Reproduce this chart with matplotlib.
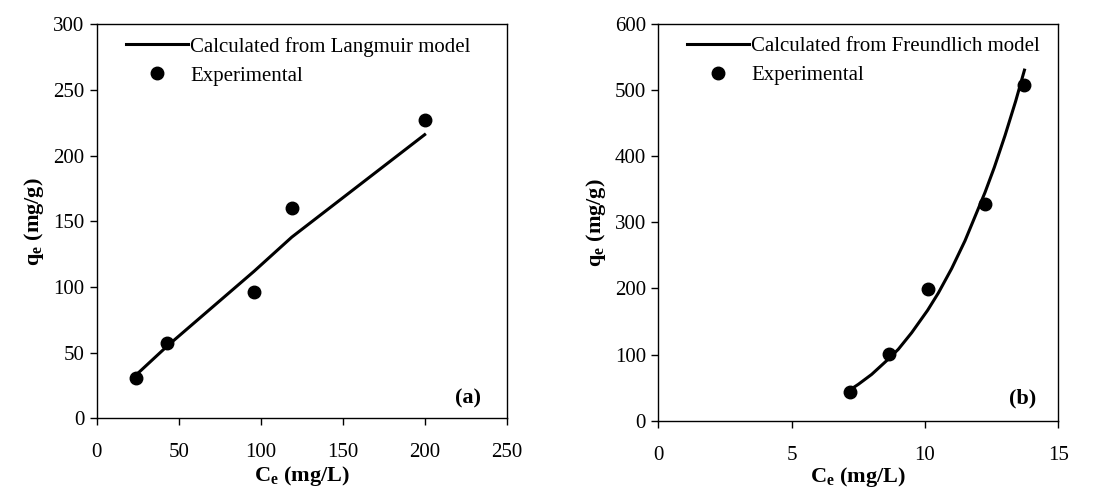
import matplotlib.pyplot as plt

plt.rcParams['font.family'] = ['Liberation Serif']
plt.rcParams['mathtext.fontset'] = 'custom'
plt.rcParams['mathtext.rm'] = 'Liberation Serif'
plt.rcParams['mathtext.bf'] = 'Liberation Serif:bold'

# (a) Langmuir
ce_a = [24, 43, 96, 119, 200]
qe_a = [31, 57, 96, 160, 227]
fit_x_a = [24, 43, 96, 119, 200]
fit_q_a = [33, 55, 112, 138, 216]

# (b) Freundlich
ce_b = [7.2, 8.65, 10.1, 12.25, 13.73]
qe_b = [43, 101, 199, 327, 507]
fit_x_b = [7.2, 7.5, 8.0, 8.65, 9.0, 9.5, 10.1, 10.5, 11.0, 11.5, 12.25, 12.6, 13.0, 13.4, 13.73]
fit_q_b = [47, 55, 70, 94, 108, 133, 167, 193, 230, 272, 345, 383, 431, 483, 530]

FS = 15


def draw(ax, cx, cy, fx, fy, label, xmax, xstep, ymax, ystep, tag, tagpos, xlpad):
    ax.plot(fx, fy, color='black', lw=2.2, label=label, zorder=2)
    ax.plot(cx, cy, 'o', color='black', ms=9, ls='none', label='Experimental', zorder=3)
    ax.set_xlim(0, xmax)
    ax.set_ylim(0, ymax)
    ax.set_xticks(range(0, xmax + 1, xstep))
    ax.set_yticks(range(0, ymax + 1, ystep))
    ax.tick_params(axis='both', direction='out', length=5, width=1, labelsize=FS)
    ax.tick_params(axis='x', pad=13)
    ax.tick_params(axis='y', pad=4)
    for s in ax.spines.values():
        s.set_linewidth(1)
    ax.set_xlabel(r'C$_\mathbf{e}$ (mg/L)', fontsize=FS + 1, fontweight='bold', labelpad=xlpad)
    ax.set_ylabel(r'q$_\mathbf{e}$ (mg/g)', fontsize=FS + 1, fontweight='bold', labelpad=5)
    ax.text(tagpos[0], tagpos[1], tag, transform=ax.transAxes, fontsize=FS + 1,
            fontweight='bold', ha='center', va='center')
    ax.legend(loc='upper left', bbox_to_anchor=(0.04, 1.0), frameon=False, fontsize=FS,
              handlelength=3.0, handletextpad=0.1, labelspacing=0.45, borderaxespad=0.2)


fig = plt.figure(figsize=(10.95, 4.9), dpi=100)
ax1 = fig.add_axes([0.0883, 0.1463, 0.3744, 0.804])
ax2 = fig.add_axes([0.6012, 0.1414, 0.3653, 0.810])

draw(ax1, ce_a, qe_a, fit_x_a, fit_q_a, 'Calculated from Langmuir model',
     250, 50, 300, 50, '(a)', (0.906, 0.05), 1)
draw(ax2, ce_b, qe_b, fit_x_b, fit_q_b, 'Calculated from Freundlich model',
     15, 5, 600, 100, '(b)', (0.912, 0.057), 0)

fig.savefig('out.png', dpi=100)
